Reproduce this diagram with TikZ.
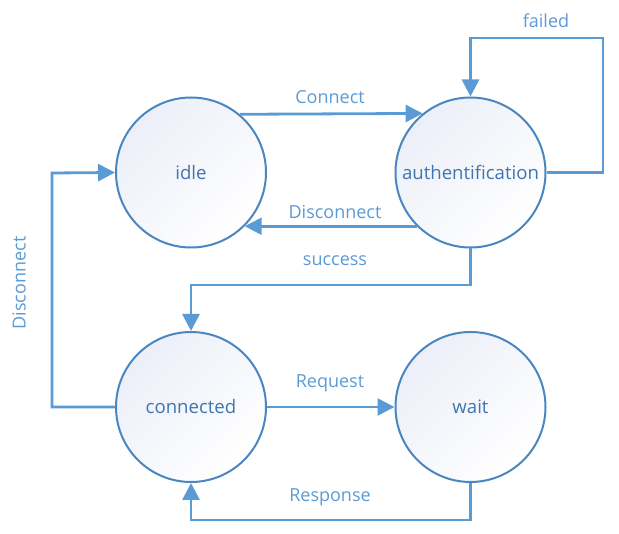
\documentclass[tikz,border=0pt]{standalone}
\usepackage{fontspec}
\setmainfont{Open Sans}
\usetikzlibrary{arrows.meta}
\definecolor{lineblue}{HTML}{5B9BD5}
\definecolor{circblue}{HTML}{4A86C0}
\definecolor{txtblue}{HTML}{3F75B0}
\definecolor{fillA}{HTML}{ECEFF8}
\tikzset{
  state/.style={circle, draw=circblue, line width=2pt, minimum size=150pt, inner sep=0pt,
    top color=fillA, bottom color=white, shading angle=45, text=txtblue,
    font=\fontsize{18.6}{20}\selectfont},
  conn/.style={draw=lineblue, line width=2.8pt, -{Triangle[length=17pt,width=17pt]}},
  lbl/.style={text=lineblue, font=\fontsize{18}{20}\selectfont, inner sep=0pt}
}
\begin{document}
\begin{tikzpicture}[x=1pt,y=-1pt]
\useasboundingbox (0,0) rectangle (619,534);
\node[state] (idle) at (191,172.5) {idle};
\node[state] (auth) at (470.5,172.5) {authentification};
\node[state] (conn) at (191,407) {connected};
\node[state] (wait) at (470.5,407) {wait};
% Connect
\draw[conn] (idle.{atan2(58.5,48.5)}) -- (auth.{180-atan2(58.5,48.5)});
% Disconnect (auth -> idle)
\draw[conn] (auth.{180+atan2(54.5,53)}) -- (idle.{-atan2(54.5,53)});
% failed loop
\coordinate (f1) at (603,172.5);
\coordinate (f2) at (603,38);
\coordinate (f3) at (470.5,38);
\draw[conn] (auth.east) -- (f1) -- (f2) -- (f3) -- (auth.north);
% success
\coordinate (s1) at (470.5,285);
\coordinate (s2) at (191,285);
\draw[conn] (auth.south) -- (s1) -- (s2) -- (conn.north);
% Disconnect left
\coordinate (d1) at (52,407);
\coordinate (d2) at (52,173);
\draw[conn] (conn.west) -- (d1) -- (d2) -- (idle.west);
% Request
\draw[conn] (conn.east) -- (wait.west);
% Response
\coordinate (r1) at (470.5,520);
\coordinate (r2) at (191,520);
\draw[conn] (wait.south) -- (r1) -- (r2) -- (conn.south);
% labels
\node[lbl] (lConnect) at (330,97) {Connect};
\node[lbl] (lDisc) at (335,212) {Disconnect};
\node[lbl] (lFailed) at (546,21) {failed};
\node[lbl] (lSuccess) at (335,261) {success};
\node[lbl, rotate=90] (lDisc2) at (19,283) {Disconnect};
\node[lbl] (lReq) at (330,383) {Request};
\node[lbl] (lResp) at (330,497) {Response};
\end{tikzpicture}
\end{document}
